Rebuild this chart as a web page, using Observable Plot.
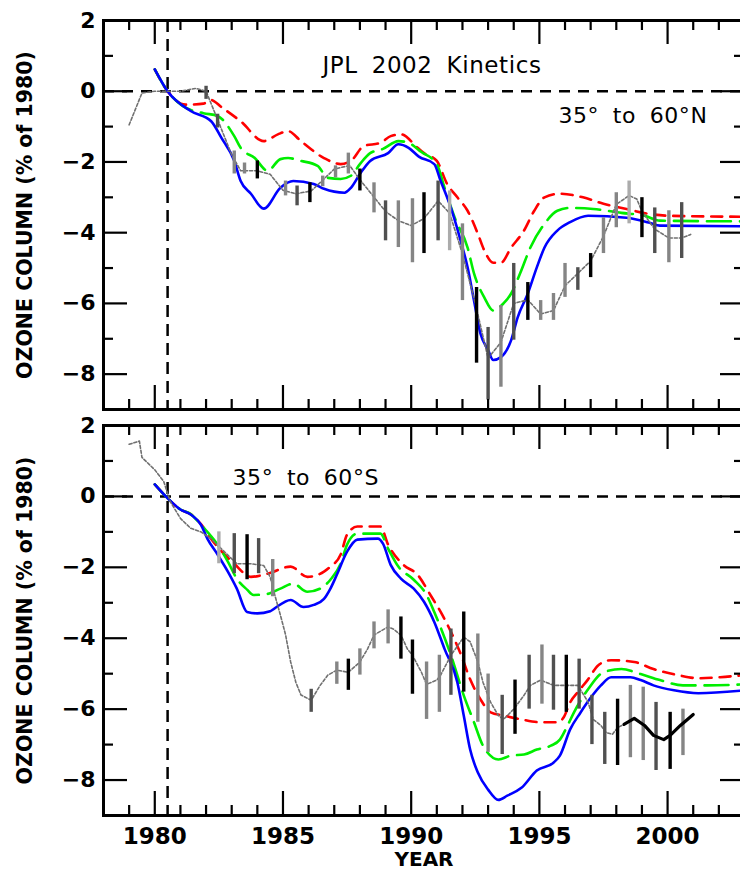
<!DOCTYPE html>
<html><head><meta charset="utf-8">
<script src="https://cdn.jsdelivr.net/npm/d3@7"></script>
<script src="https://cdn.jsdelivr.net/npm/@observablehq/plot@0.6"></script>
<style>
html,body{margin:0;padding:0;background:#fff;overflow:hidden;}
#chart svg{display:block;}
</style></head><body><div id="chart"></div>
<script>
// ---------- axes / ticks ----------
const xDomain = [1978, 2003];
const yDomain = [-9, 2];
const xMajor = [1980, 1985, 1990, 1995, 2000];
const xMinor = [1978, 1979, 1981, 1982, 1983, 1984, 1986, 1987, 1988, 1989, 1991, 1992, 1993, 1994, 1996, 1997, 1998, 1999, 2001, 2002];
const yMajor = [2, 0, -2, -4, -6, -8];
const yMinor = [1, -1, -3, -5, -7];
const refYear = [1980.5];
const refLevel = [0];
const yLabel = "OZONE COLUMN (% of 1980)";
const xLabel = "YEAR";
const notes = ["JPL 2002 Kinetics", "35° to 60°N", "35° to 60°S"];

// ---------- 35°-60°N ----------
const nRed = [[1980.0,0.62],[1980.5,0.0],[1981.2,-0.38],[1981.9,-0.35],[1982.2,-0.25],[1982.6,-0.45],[1983.35,-0.85],[1984.25,-1.41],[1984.8,-1.22],[1985.2,-1.13],[1985.7,-1.41],[1986.6,-1.89],[1987.25,-2.06],[1987.65,-1.97],[1988.15,-1.55],[1988.8,-1.46],[1989.2,-1.27],[1989.6,-1.22],[1990.25,-1.6],[1990.5,-1.75],[1991.0,-1.97],[1991.4,-2.62],[1991.8,-3.0],[1992.2,-3.38],[1992.6,-4.03],[1992.85,-4.5],[1993.2,-4.85],[1993.5,-4.85],[1993.9,-4.42],[1994.4,-3.94],[1994.8,-3.38],[1995.2,-3.0],[1995.8,-2.9],[1996.7,-3.0],[1997.5,-3.18],[1998.4,-3.33],[1999.2,-3.46],[2000.0,-3.52],[2003.0,-3.55]];
const nGreen = [[1980.0,0.62],[1980.5,0.0],[1981.1,-0.42],[1981.9,-0.62],[1982.45,-0.7],[1983.1,-1.27],[1983.35,-1.6],[1983.9,-1.89],[1984.4,-2.25],[1984.9,-1.92],[1985.2,-1.89],[1985.7,-1.97],[1986.35,-2.11],[1986.75,-2.45],[1987.25,-2.48],[1987.65,-2.39],[1988.0,-2.06],[1988.4,-1.75],[1988.9,-1.63],[1989.5,-1.41],[1989.9,-1.46],[1990.4,-1.72],[1991.0,-2.06],[1991.3,-2.73],[1991.7,-3.58],[1992.2,-4.42],[1992.45,-5.15],[1992.85,-5.83],[1993.2,-6.2],[1993.6,-6.0],[1993.9,-5.72],[1994.25,-5.15],[1994.65,-4.42],[1995.2,-3.75],[1995.7,-3.38],[1996.2,-3.3],[1997.1,-3.33],[1998.2,-3.44],[1999.1,-3.52],[1999.7,-3.66],[2003.0,-3.68]];
const nBlue = [[1980.0,0.62],[1980.5,0.0],[1981.4,-0.56],[1982.2,-0.85],[1982.6,-1.32],[1983.1,-1.97],[1983.35,-2.54],[1983.75,-2.9],[1984.25,-3.32],[1984.9,-2.73],[1985.4,-2.54],[1986.2,-2.62],[1986.6,-2.76],[1987.4,-2.87],[1987.65,-2.73],[1988.0,-2.34],[1988.4,-1.97],[1989.1,-1.75],[1989.5,-1.5],[1989.9,-1.6],[1990.3,-1.85],[1990.9,-2.06],[1991.15,-2.54],[1991.55,-3.3],[1991.93,-4.23],[1992.2,-4.98],[1992.45,-5.92],[1992.7,-6.85],[1993.0,-7.32],[1993.2,-7.6],[1993.5,-7.52],[1993.9,-7.04],[1994.15,-6.4],[1994.55,-5.72],[1994.9,-4.98],[1995.2,-4.42],[1995.7,-3.94],[1996.2,-3.7],[1996.9,-3.52],[1998.4,-3.58],[1999.3,-3.72],[1999.7,-3.8],[2003.0,-3.82]];
const nObs = [[1979.0,-0.95],[1979.5,-0.05],[1980.0,0.0],[1980.5,0.0],[1981.0,0.0],[1981.6,0.08],[1982.0,0.0],[1982.45,-0.8],[1983.0,-1.8],[1983.35,-2.25],[1984.0,-2.25],[1984.5,-2.35],[1985.0,-2.8],[1985.5,-2.9],[1986.1,-2.82],[1986.5,-2.55],[1987.0,-2.2],[1987.6,-2.1],[1988.0,-2.5],[1988.5,-2.95],[1989.0,-3.4],[1989.5,-3.66],[1990.0,-3.8],[1990.5,-3.6],[1991.05,-3.1],[1991.5,-3.45],[1992.0,-4.6],[1992.5,-6.0],[1993.0,-7.55],[1993.5,-7.1],[1994.0,-6.0],[1994.55,-5.9],[1995.05,-6.3],[1995.55,-6.2],[1996.0,-5.5],[1996.5,-5.15],[1997.0,-4.8],[1997.5,-4.1],[1998.0,-3.2],[1998.5,-2.95],[1998.8,-3.05],[1999.0,-3.4],[1999.5,-3.9],[2000.05,-4.15],[2000.55,-4.15],[2000.9,-4.05]];
// error bars: [year, upper, lower, shade]
const nBars = [[1982.0,0.14,-0.23,"dark"],[1982.45,-0.65,-1.04,"dark"],[1983.1,-1.69,-2.34,"mid"],[1983.5,-2.03,-2.34,"mid"],[1984.0,-1.97,-2.48,"black"],[1985.1,-2.54,-2.96,"mid"],[1985.55,-2.68,-3.24,"dark"],[1986.05,-2.59,-3.15,"black"],[1986.55,-2.4,-2.7,"mid"],[1987.05,-2.11,-2.45,"mid"],[1987.55,-1.75,-2.34,"mid"],[1988.0,-2.2,-2.82,"black"],[1988.55,-2.59,-3.44,"mid"],[1989.0,-3.1,-4.23,"dark"],[1989.5,-3.1,-4.42,"mid"],[1990.05,-3.04,-4.85,"mid"],[1990.5,-2.87,-4.59,"black"],[1991.05,-2.54,-4.23,"dark"],[1991.5,-2.82,-4.51,"light"],[1992.0,-3.75,-5.92,"mid"],[1992.55,-5.55,-7.69,"black"],[1993.0,-6.68,-8.73,"dark"],[1993.5,-6.06,-8.37,"mid"],[1994.0,-4.87,-7.04,"dark"],[1994.55,-5.41,-6.48,"black"],[1995.05,-5.92,-6.48,"mid"],[1995.55,-5.72,-6.48,"mid"],[1996.0,-4.87,-5.83,"mid"],[1996.5,-4.99,-5.63,"dark"],[1997.0,-4.59,-5.27,"black"],[1997.5,-3.58,-4.59,"mid"],[1998.0,-2.87,-3.86,"mid"],[1998.5,-2.54,-3.75,"light"],[1999.0,-3.01,-4.14,"black"],[1999.5,-3.3,-4.59,"dark"],[2000.05,-3.38,-4.85,"mid"],[2000.55,-3.15,-4.73,"dark"]];

// ---------- 35°-60°S ----------
const sRed = [[1980.0,0.34],[1980.5,-0.05],[1981.0,-0.37],[1981.4,-0.5],[1981.8,-0.78],[1982.2,-1.2],[1983.1,-1.9],[1983.75,-2.27],[1984.4,-2.18],[1985.3,-1.98],[1985.95,-2.27],[1986.6,-2.12],[1986.85,-1.98],[1987.25,-1.64],[1987.5,-1.08],[1987.9,-0.85],[1988.8,-0.85],[1989.1,-1.36],[1989.7,-1.93],[1990.25,-2.21],[1990.75,-2.78],[1991.15,-3.26],[1991.55,-3.82],[1991.95,-4.48],[1992.3,-5.16],[1992.7,-5.72],[1993.1,-6.09],[1993.6,-6.18],[1994.3,-6.29],[1995.05,-6.37],[1995.7,-6.37],[1995.95,-6.23],[1996.2,-5.81],[1996.5,-5.52],[1996.9,-5.16],[1997.3,-4.76],[1997.8,-4.62],[1998.7,-4.67],[1999.45,-4.87],[2000.4,-5.04],[2001.2,-5.13],[2002.05,-5.1],[2003.0,-5.04]];
const sGreen = [[1980.0,0.34],[1980.5,-0.05],[1981.0,-0.37],[1981.4,-0.5],[1981.8,-0.8],[1982.45,-1.36],[1982.85,-1.84],[1983.2,-2.32],[1983.6,-2.63],[1983.85,-2.78],[1984.4,-2.75],[1984.9,-2.6],[1985.4,-2.46],[1985.95,-2.69],[1986.45,-2.6],[1986.85,-2.35],[1987.25,-1.9],[1987.5,-1.36],[1987.9,-1.05],[1988.8,-1.05],[1989.1,-1.47],[1989.5,-1.98],[1990.1,-2.35],[1990.6,-2.78],[1990.9,-3.26],[1991.55,-4.48],[1992.05,-5.61],[1992.45,-6.37],[1992.8,-7.03],[1993.4,-7.42],[1993.9,-7.31],[1994.4,-7.28],[1994.9,-7.14],[1995.45,-7.03],[1995.8,-6.86],[1996.1,-6.46],[1996.35,-6.09],[1996.9,-5.44],[1997.5,-4.96],[1998.2,-4.87],[1998.95,-5.01],[1999.7,-5.18],[2000.6,-5.33],[2001.55,-5.33],[2003.0,-5.3]];
const sBlue = [[1980.0,0.34],[1980.5,-0.05],[1981.0,-0.37],[1981.4,-0.51],[1981.8,-0.8],[1982.05,-1.19],[1982.45,-1.64],[1982.85,-2.12],[1983.2,-2.6],[1983.6,-3.26],[1984.0,-3.3],[1984.5,-3.24],[1984.65,-3.17],[1985.3,-2.92],[1985.8,-3.12],[1986.2,-3.06],[1986.6,-2.89],[1986.85,-2.6],[1987.1,-2.21],[1987.5,-1.56],[1987.9,-1.22],[1988.7,-1.19],[1988.9,-1.33],[1989.2,-1.93],[1989.6,-2.32],[1990.1,-2.6],[1990.5,-2.97],[1990.9,-3.54],[1991.3,-4.3],[1991.8,-5.24],[1992.05,-6.18],[1992.3,-7.14],[1992.6,-7.79],[1993.0,-8.27],[1993.4,-8.56],[1993.75,-8.44],[1994.3,-8.22],[1994.9,-7.73],[1995.55,-7.51],[1995.8,-7.31],[1996.2,-6.57],[1996.6,-6.1],[1997.0,-5.68],[1997.4,-5.33],[1997.8,-5.1],[1998.55,-5.1],[1998.95,-5.18],[1999.45,-5.33],[2000.25,-5.47],[2001.2,-5.55],[2003.0,-5.47]];
const sObs = [[1979.0,1.47],[1979.4,1.56],[1979.5,1.1],[1980.0,0.75],[1980.35,0.42],[1980.6,-0.14],[1981.0,-0.62],[1981.4,-0.9],[1981.8,-1.0],[1982.2,-1.2],[1982.7,-1.55],[1983.2,-1.9],[1983.75,-1.9],[1984.25,-1.95],[1984.5,-2.27],[1984.65,-2.7],[1984.9,-3.35],[1985.1,-3.9],[1985.3,-4.67],[1985.5,-5.24],[1985.7,-5.6],[1986.1,-5.75],[1986.45,-5.33],[1986.75,-5.04],[1987.1,-4.9],[1987.55,-4.96],[1988.0,-4.67],[1988.3,-4.3],[1988.55,-3.91],[1989.1,-3.68],[1989.3,-3.74],[1989.6,-3.91],[1989.85,-4.3],[1990.05,-4.48],[1990.4,-4.96],[1990.6,-5.3],[1991.0,-5.18],[1991.15,-5.04],[1991.55,-4.48],[1992.05,-3.97],[1992.3,-4.1],[1992.6,-4.67],[1992.8,-5.24],[1993.1,-5.81],[1993.4,-6.18],[1993.6,-6.29],[1994.0,-6.0],[1994.4,-5.61],[1994.65,-5.33],[1995.05,-5.18],[1995.55,-5.33],[1996.1,-5.33],[1996.5,-5.33],[1996.9,-5.8],[1997.1,-6.29],[1997.4,-6.46],[1997.6,-6.66],[1997.85,-6.71],[1998.05,-6.52],[1998.3,-6.43]];
const sRecent = [[1998.3,-6.43],[1998.7,-6.26],[1999.1,-6.46],[1999.45,-6.74],[1999.85,-6.86],[2000.1,-6.74],[2000.5,-6.46],[2001.0,-6.15]];
const sBars = [[1982.5,-1.0,-1.9,"light"],[1983.1,-1.05,-2.18,"dark"],[1983.6,-1.08,-2.35,"black"],[1984.05,-1.19,-2.18,"dark"],[1984.6,-1.78,-2.83,"mid"],[1986.1,-5.44,-6.09,"dark"],[1987.1,-4.67,-5.3,"mid"],[1987.55,-4.59,-5.47,"black"],[1988.0,-4.3,-5.04,"mid"],[1988.55,-3.54,-4.3,"mid"],[1989.1,-3.2,-4.16,"mid"],[1989.6,-3.4,-4.59,"black"],[1990.05,-4.05,-5.58,"black"],[1990.6,-4.67,-6.29,"mid"],[1991.1,-4.48,-6.09,"mid"],[1991.55,-3.74,-5.61,"dark"],[1992.05,-3.26,-5.52,"black"],[1992.6,-3.88,-6.37,"mid"],[1993.0,-5.01,-7.22,"mid"],[1993.55,-5.61,-7.28,"dark"],[1994.05,-5.18,-6.71,"black"],[1994.6,-4.48,-6.0,"dark"],[1995.1,-4.19,-5.86,"mid"],[1995.55,-4.48,-6.03,"dark"],[1996.05,-4.48,-6.09,"black"],[1996.55,-4.59,-6.0,"dark"],[1997.05,-5.61,-7.0,"dark"],[1997.55,-6.09,-7.56,"dark"],[1998.05,-5.72,-7.59,"black"],[1998.55,-5.33,-7.37,"mid"],[1999.05,-5.38,-7.45,"mid"],[1999.55,-5.81,-7.73,"dark"],[2000.1,-6.09,-7.7,"black"],[2000.6,-6.0,-7.31,"mid"]];

// ---------- drawing ----------
const W = 740, ML = 103, MR = -4;
const FONT = "'DejaVu Sans', 'Liberation Sans', sans-serif";

function edgeTicks(frameW, frameH) {
  const s = {stroke: "black", strokeWidth: 2.2};
  const major = 24, minor = 10;
  return [
    Plot.ruleX(xMajor, {x: d => d, insetTop: frameH - major, ...s}),
    Plot.ruleX(xMajor, {x: d => d, insetBottom: frameH - major, ...s}),
    Plot.ruleX(xMinor, {x: d => d, insetTop: frameH - minor, ...s}),
    Plot.ruleX(xMinor, {x: d => d, insetBottom: frameH - minor, ...s}),
    Plot.ruleY(yMajor, {y: d => d, insetRight: frameW - major, ...s}),
    Plot.ruleY(yMajor, {y: d => d, insetLeft: frameW - major, ...s}),
    Plot.ruleY(yMinor, {y: d => d, insetRight: frameW - minor, ...s}),
    Plot.ruleY(yMinor, {y: d => d, insetLeft: frameW - minor, ...s})
  ];
}

function panel({height, marginTop, marginBottom, red, green, blue, obs, bars, extras, bottomAxis}) {
  const frameW = W - MR - ML;
  const frameH = height - marginTop - marginBottom;
  const P = d => d[0], V = d => d[1];
  return Plot.plot({
    width: W, height, marginLeft: ML, marginRight: MR, marginTop, marginBottom,
    style: {fontFamily: FONT, fontSize: "22px", color: "black", background: "transparent", overflow: "visible"},
    x: {domain: xDomain, axis: null},
    y: {domain: yDomain, axis: null},
    color: {type: "ordinal", domain: ["black", "dark", "mid", "light"], range: ["#000000", "#505050", "#858585", "#ababab"]},
    marks: [
      Plot.ruleY(refLevel, {y: d => d, stroke: "black", strokeWidth: 2.5, strokeDasharray: "11,8"}),
      Plot.ruleX(refYear, {x: d => d, stroke: "black", strokeWidth: 2.5, strokeDasharray: "12,7"}),
      Plot.line(red, {x: P, y: V, stroke: "#ff0000", strokeWidth: 2.6, strokeDasharray: "11,8", curve: "monotone-x"}),
      Plot.line(green, {x: P, y: V, stroke: "#00ee00", strokeWidth: 2.6, strokeDasharray: "24,9", curve: "monotone-x"}),
      Plot.line(blue, {x: P, y: V, stroke: "#0000ff", strokeWidth: 2.6, curve: "monotone-x"}),
      Plot.line(obs, {x: P, y: V, stroke: "#707070", strokeWidth: 1.6, strokeDasharray: "3,2"}),
      Plot.ruleX(bars, {x: d => d[0], y1: d => d[1], y2: d => d[2], stroke: d => d[3], strokeWidth: 3.4}),
      ...extras,
      Plot.frame({stroke: "black", strokeWidth: 3}),
      ...edgeTicks(frameW, frameH),
      Plot.axisY(yMajor, {tickSize: 0, tickPadding: 8, fontSize: 22, fontWeight: "bold", label: null}),
      Plot.text([yLabel], {frameAnchor: "left", textAnchor: "middle", lineAnchor: "middle", dx: -78, rotate: -90, text: d => d, fontSize: 20.5, fontWeight: "bold"}),
      ...(bottomAxis ? [
        Plot.axisX(xMajor, {anchor: "bottom", tickSize: 0, tickPadding: 12, tickFormat: d => String(d), fontSize: 23, fontWeight: "bold", label: null}),
        Plot.text([xLabel], {frameAnchor: "bottom", lineAnchor: "middle", dy: 44, text: d => d, fontSize: 20, fontWeight: "bold"})
      ] : [])
    ]
  });
}

const northPanel = panel({
  height: 415, marginTop: 20, marginBottom: 6,
  red: nRed, green: nGreen, blue: nBlue, obs: nObs, bars: nBars,
  extras: [
    Plot.text([notes[0]], {frameAnchor: "top", lineAnchor: "middle", dx: 8, dy: 45, text: d => d, fontSize: 23}),
    Plot.text([notes[1]], {frameAnchor: "top-right", textAnchor: "end", lineAnchor: "middle", dx: -37, dy: 95, text: d => d, fontSize: 22})
  ],
  bottomAxis: false
});
const southPanel = panel({
  height: 456, marginTop: 10, marginBottom: 56,
  red: sRed, green: sGreen, blue: sBlue, obs: sObs, bars: sBars,
  extras: [
    Plot.line(sRecent, {x: d => d[0], y: d => d[1], stroke: "black", strokeWidth: 3.2}),
    Plot.text([notes[2]], {frameAnchor: "top-left", textAnchor: "start", lineAnchor: "middle", dx: 129, dy: 52, text: d => d, fontSize: 22})
  ],
  bottomAxis: true
});
const root = document.getElementById("chart");
root.style.background = "white";
root.appendChild(northPanel);
root.appendChild(southPanel);
// wider letter/word spacing only for the panel annotations
d3.select(root).selectAll("text")
  .filter(function () { return notes.includes(this.textContent); })
  .style("letter-spacing", "0.6px").style("word-spacing", "6px");
</script></body></html>
